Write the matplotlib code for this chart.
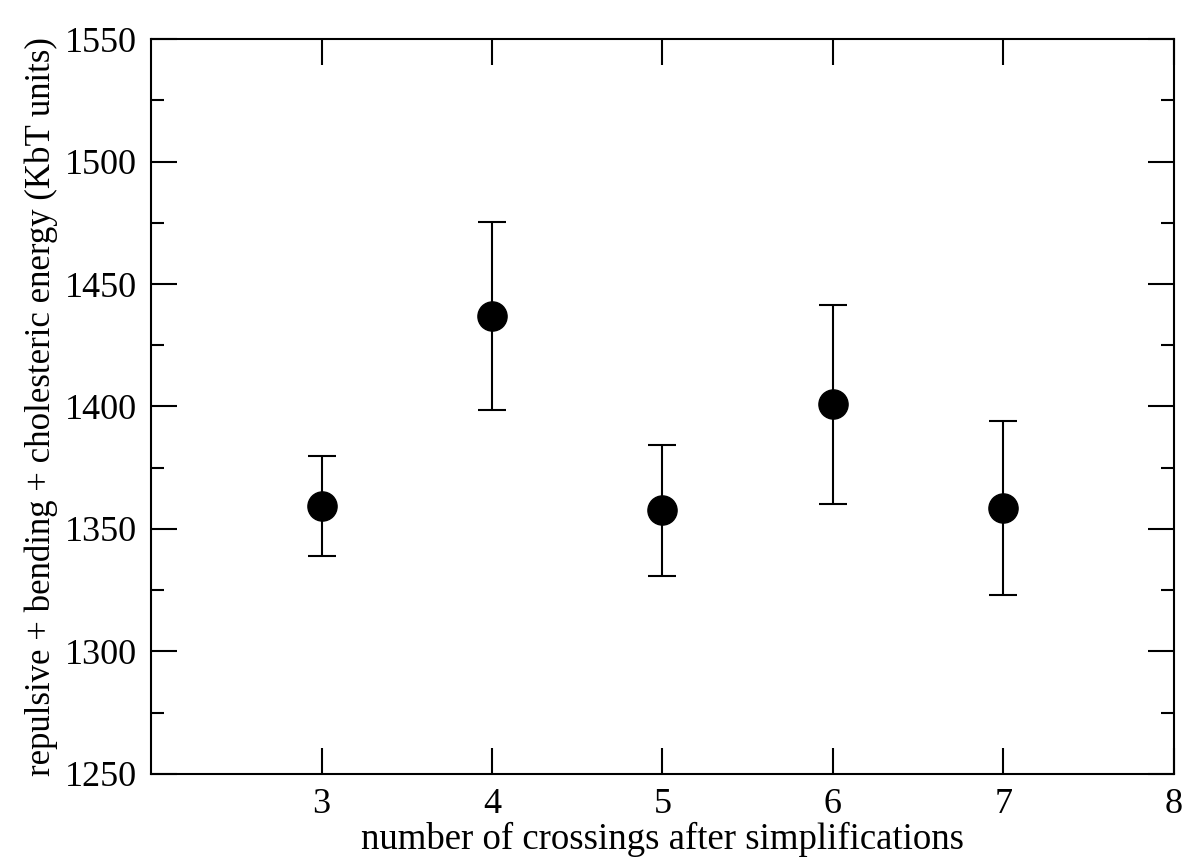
import matplotlib
matplotlib.use("Agg")
import matplotlib.pyplot as plt
from matplotlib.ticker import MultipleLocator

# crossings after simplification vs mean energy with error bars
crossings = [3, 4, 5, 6, 7]
energy = [1359.3, 1436.9, 1357.6, 1400.9, 1358.6]
energy_err = [20.3, 38.5, 26.8, 40.6, 35.5]

x_ticks = [3, 4, 5, 6, 7, 8]

plt.rcParams['font.family'] = ['Liberation Serif', 'DejaVu Serif']

fig = plt.figure(figsize=(11.91, 8.67), dpi=100)
ax = fig.add_axes([0.1268, 0.1073, 0.8589, 0.8477])

ax.errorbar(crossings, energy, yerr=energy_err, fmt='o', color='black',
            markersize=21, elinewidth=1.5, capsize=10, capthick=1.5)

ax.set_xlim(2, 8)
ax.set_ylim(1250, 1550)
ax.set_xticks(x_ticks)
ax.yaxis.set_major_locator(MultipleLocator(50))
ax.yaxis.set_minor_locator(MultipleLocator(25))

ax.tick_params(which='both', direction='in', top=True, right=True,
               width=1.5, labelsize=26, pad=10)
ax.tick_params(which='major', length=19)
ax.tick_params(which='minor', length=9.5)
for s in ax.spines.values():
    s.set_linewidth(1.5)

ax.set_xlabel('number of crossings after simplifications', fontsize=26.5, labelpad=1)
ax.set_ylabel('repulsive + bending + cholesteric energy (KbT units)', fontsize=25, labelpad=5)

fig.savefig('out.png', dpi=100)
